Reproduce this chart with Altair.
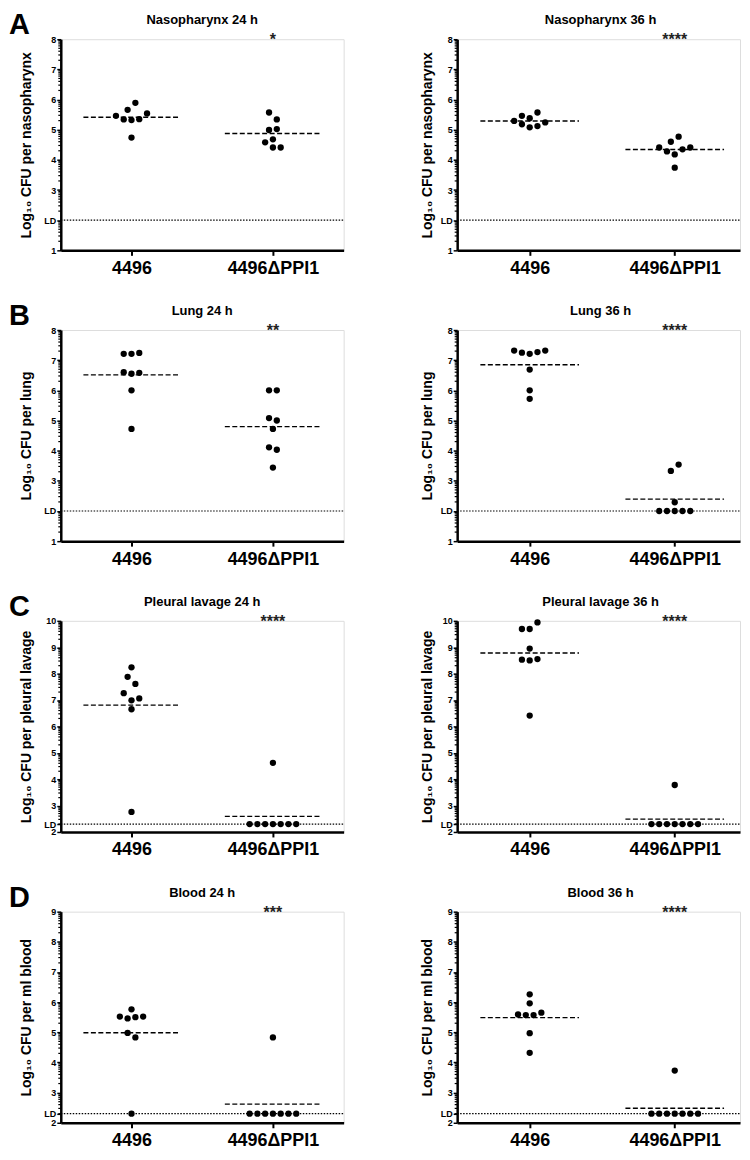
import math
import altair as alt
import pandas as pd

FONT = "Liberation Sans"

# ---------------- data ----------------
CATS = ["4496", "4496ΔPPI1"]
LETTERS = ["A", "B", "C", "D"]
TITLES = ["Nasopharynx 24 h", "Nasopharynx 36 h",
          "Lung 24 h", "Lung 36 h",
          "Pleural lavage 24 h", "Pleural lavage 36 h",
          "Blood 24 h", "Blood 36 h"]
YLABELS = ["Log₁₀ CFU per nasopharynx", "Log₁₀ CFU per nasopharynx",
           "Log₁₀ CFU per lung", "Log₁₀ CFU per lung",
           "Log₁₀ CFU per pleural lavage", "Log₁₀ CFU per pleural lavage",
           "Log₁₀ CFU per ml blood", "Log₁₀ CFU per ml blood"]
STARS = ["*", "****", "**", "****", "****", "****", "***", "****"]

# y-axis range and detection limit per row
Y_DOMAINS = [[1, 8], [1, 8], [2, 10], [2, 9]]
LD_VALUES = [2.0, 2.0, 2.301, 2.301]

# wild type 4496 values per panel
WT = [
    [5.46, 5.34, 5.66, 5.32, 4.74, 5.89, 5.35, 5.54],
    [5.29, 5.46, 5.18, 5.38, 5.08, 5.57, 5.12, 5.24],
    [7.21, 6.60, 7.21, 6.55, 6.00, 4.72, 7.24, 6.58],
    [7.32, 7.25, 7.21, 6.69, 6.00, 5.72, 7.27, 7.32],
    [7.26, 7.88, 8.24, 6.99, 6.65, 2.76, 7.61, 7.06],
    [9.69, 8.53, 9.69, 8.95, 8.50, 6.41, 9.94, 8.55],
    [5.52, 5.46, 4.98, 5.76, 2.301, 5.50, 4.83, 5.52],
    [5.59, 5.57, 6.26, 5.96, 4.97, 4.32, 5.57, 5.65],
]
# mutant 4496ΔPPI1 values per panel
MUT = [
    [4.58, 5.57, 4.99, 4.68, 4.41, 5.34, 5.02, 4.41],
    [4.41, 4.28, 4.60, 4.18, 3.74, 4.77, 4.35, 4.41],
    [6.00, 5.08, 4.11, 4.72, 3.44, 6.00, 5.00, 4.03],
    [2.00, 2.00, 3.33, 2.00, 2.29, 3.54, 2.00, 2.00],
    [2.301, 2.301, 2.301, 4.62, 2.301, 2.301, 2.301, 2.301],
    [2.301, 2.301, 2.301, 3.78, 2.301, 2.301, 2.301, 2.301],
    [2.301, 2.301, 2.301, 4.83, 2.301, 2.301, 2.301, 2.301],
    [2.301, 2.301, 2.301, 3.73, 2.301, 2.301, 2.301, 2.301],
]

# ---------------- layout constants ----------------
W = 284
H = 212
X_DOMS = [[0.5, 2.5], [0.5, 2.45]]
DOT_STEP_PX = 7.8
BIN_PX = 8.0
HALF_LINE = 0.34


def swarm(vals, bin_u, step_u):
    order = sorted(range(len(vals)), key=lambda i: vals[i])
    offs = [0.0] * len(vals)
    i = 0
    while i < len(order):
        start = vals[order[i]]
        j = i
        while j < len(order) and vals[order[j]] - start <= bin_u + 1e-9:
            j += 1
        members = sorted(order[i:j])
        n = len(members)
        for k, m in enumerate(members):
            offs[m] = (k - (n - 1) / 2) * step_u
        i = j
    return offs


def panel(i):
    row, col = divmod(i, 2)
    ymin, ymax = Y_DOMAINS[row]
    ld = LD_VALUES[row]
    xdom = X_DOMS[col]
    pxx = W / (xdom[1] - xdom[0])
    pxy = H / (ymax - ymin)
    ylab = YLABELS[i]

    recs = []
    mrecs = []
    for g, vals in enumerate([WT[i], MUT[i]]):
        offs = swarm(vals, BIN_PX / pxy, DOT_STEP_PX / pxx)
        for v, o in zip(vals, offs):
            recs.append({"x": g + 1 + o, "v": v})
        mrecs.append({"x": g + 1 - HALF_LINE, "x2": g + 1 + HALF_LINE,
                      "v": sum(vals) / len(vals)})
    pts = pd.DataFrame(recs)
    means = pd.DataFrame(mrecs)

    major = [float(v) for v in range(ymin, ymax + 1)]
    if ld not in major:
        major = sorted(major + [ld])
    minor = [n + math.log10(k) for n in range(ymin, ymax) for k in range(2, 10)]

    xsc = alt.Scale(domain=xdom, nice=False, zero=False)
    ysc = alt.Scale(domain=[ymin, ymax], nice=False, zero=False)
    lab_expr = "[" + ",".join("'%s'" % c for c in CATS) + "][datum.value - 1]"
    xaxis = alt.Axis(values=[1, 2], labelExpr=lab_expr, tickSize=5, tickWidth=2,
                     labelFontSize=18, labelFontWeight="bold", labelFont=FONT,
                     labelPadding=4, labelFlush=False, labelOverlap=False,
                     domainWidth=2.5, domainColor="black", tickColor="black",
                     labelColor="black", grid=False)
    yaxis = alt.Axis(values=major,
                     labelExpr="abs(datum.value - %s) < 0.001 ? 'LD' : format(datum.value, 'd')" % ld,
                     tickSize=4, tickWidth=1.5, labelFontSize=9, labelFontWeight="bold",
                     labelFont=FONT, labelPadding=1, labelFlush=False, labelOverlap=False,
                     domainWidth=2.5, domainColor="black", tickColor="black",
                     labelColor="black", grid=False, titleFontSize=14,
                     titleFontWeight="bold", titleFont=FONT, titleColor="black",
                     titlePadding=10 if col == 0 else 6)

    def X(f):
        return alt.X(f, scale=xsc, axis=xaxis, title=None)

    def Y(f):
        return alt.Y(f, scale=ysc, axis=yaxis, title=ylab)

    points = alt.Chart(pts).mark_circle(size=40, color="black", opacity=1).encode(
        x=X("x:Q"), y=Y("v:Q"))
    ld_rule = alt.Chart(pd.DataFrame({"v": [ld]})).mark_rule(
        color="black", strokeWidth=1.2, strokeDash=[1.5, 1.5]).encode(
        y=Y("v:Q"), x=alt.value(0), x2=alt.value(W))
    minor_ticks = alt.Chart(pd.DataFrame({"v": minor})).mark_rule(
        color="black", strokeWidth=1.2).encode(
        y=Y("v:Q"), x=alt.value(-2.5), x2=alt.value(0))
    mean_rule = alt.Chart(means).mark_rule(
        color="black", strokeWidth=1.4, strokeDash=[5, 2.5]).encode(
        x=X("x:Q"), x2="x2:Q", y=Y("v:Q"))
    stars = alt.Chart(pd.DataFrame({"x": [2], "v": [ymax], "t": [STARS[i]]})).mark_text(
        fontSize=16, fontWeight="bold", font=FONT, color="#222222",
        baseline="alphabetic", dy=6).encode(
        x=X("x:Q"), y=Y("v:Q"), text="t:N")
    title = alt.Chart(pd.DataFrame({"t": [TITLES[i]]})).mark_text(
        fontSize=13, fontWeight="bold", font=FONT, color="black",
        align="center", baseline="middle").encode(
        x=alt.value(W / 2 + (0 if col == 0 else 2)), y=alt.value(-19), text="t:N")

    layers = [points, ld_rule, minor_ticks, mean_rule, stars, title]
    if col == 0:
        letter = alt.Chart(pd.DataFrame({"t": [LETTERS[row]]})).mark_text(
            fontSize=29, fontWeight="bold", font=FONT, color="black",
            align="left", baseline="alphabetic").encode(
            x=alt.value(-52), y=alt.value(-5), text="t:N")
        layers.append(letter)

    return alt.layer(*layers).properties(width=W, height=H)


panels = [panel(i) for i in range(8)]
chart = alt.concat(*panels, columns=2).properties(
    spacing={"row": 80, "column": 114}, bounds="flush", padding=0
).configure_view(stroke=None).configure(background="white")

chart.save("out.html", embed_options={"renderer": "svg", "actions": False})
